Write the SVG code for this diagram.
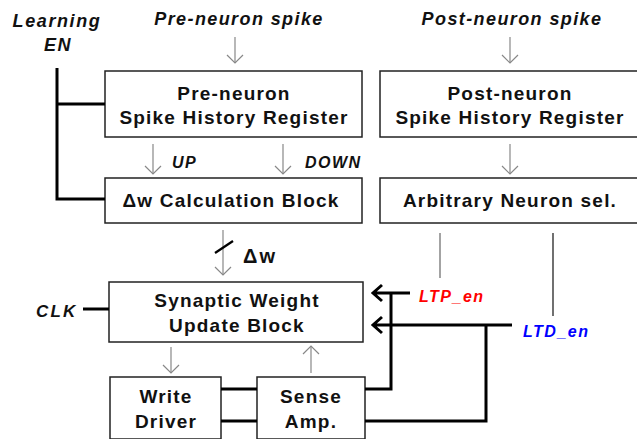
<svg xmlns="http://www.w3.org/2000/svg" width="637" height="439" viewBox="0 0 637 439">
<defs>
<style>
.box{fill:#fff;stroke:#222;stroke-width:1.5}
.bt{font-family:"Liberation Sans",Arial,sans-serif;font-weight:bold;font-size:19px;letter-spacing:1.2px;fill:#111;text-anchor:middle}
.it{font-family:"Liberation Sans",Arial,sans-serif;font-weight:bold;font-style:italic;fill:#111}
.thin{stroke:#888;stroke-width:1.2;fill:none}
.thick{stroke:#000;stroke-width:3;fill:none}
</style>
<marker id="ah" markerWidth="18" markerHeight="18" refX="9" refY="9" orient="auto" markerUnits="userSpaceOnUse">
<path d="M1,1 L9,9 L1,17" fill="none" stroke="#888" stroke-width="1.2"/>
</marker>
</defs>
<rect width="637" height="439" fill="#fff"/>
<text class="it" x="57" y="27" font-size="18" letter-spacing="1.6" text-anchor="middle">Learning</text>
<text class="it" x="58" y="51" font-size="18" letter-spacing="1.5" text-anchor="middle">EN</text>
<text class="it" x="239" y="25" font-size="18" letter-spacing="1.4" text-anchor="middle">Pre-neuron spike</text>
<text class="it" x="512" y="25" font-size="18" letter-spacing="1.4" text-anchor="middle">Post-neuron spike</text>
<g id="pre-reg"><rect class="box" x="105" y="71" width="257" height="66"/>
<text class="bt" x="234" y="100">Pre-neuron</text><text class="bt" x="234" y="124">Spike History Register</text></g>
<g id="post-reg"><rect class="box" x="380" y="71" width="262" height="66"/>
<text class="bt" x="510" y="100">Post-neuron</text><text class="bt" x="510" y="124">Spike History Register</text></g>
<g id="dw-calc"><rect class="box" x="105" y="178" width="257" height="45"/>
<text class="bt" x="231" y="207">Δw Calculation Block</text></g>
<g id="arb-sel"><rect class="box" x="380" y="178" width="262" height="45"/>
<text class="bt" x="510" y="207">Arbitrary Neuron sel.</text></g>
<g id="syn-upd"><rect class="box" x="109" y="282" width="254" height="60"/>
<text class="bt" x="237" y="307">Synaptic Weight</text><text class="bt" x="237" y="332">Update Block</text></g>
<g id="write-drv"><rect class="box" x="110" y="377" width="111" height="62"/>
<text class="bt" x="166" y="403">Write</text><text class="bt" x="166" y="428">Driver</text></g>
<g id="sense-amp"><rect class="box" x="257" y="377" width="108" height="62"/>
<text class="bt" x="311" y="403">Sense</text><text class="bt" x="311" y="428">Amp.</text></g>
<g id="connectors">
<line class="thin" x1="235" y1="37" x2="235" y2="63" marker-end="url(#ah)"/>
<line class="thin" x1="510" y1="37" x2="510" y2="63" marker-end="url(#ah)"/>
<line class="thin" x1="153" y1="144" x2="153" y2="174" marker-end="url(#ah)"/>
<line class="thin" x1="283" y1="144" x2="283" y2="174" marker-end="url(#ah)"/>
<line class="thin" x1="510" y1="144" x2="510" y2="174" marker-end="url(#ah)"/>
<line class="thin" x1="223" y1="230" x2="223" y2="275" marker-end="url(#ah)"/>
<line x1="215" y1="253" x2="233" y2="241" stroke="#000" stroke-width="2.2"/>
<line class="thin" x1="171" y1="347" x2="171" y2="373" marker-end="url(#ah)"/>
<line class="thin" x1="311" y1="373" x2="311" y2="346" marker-end="url(#ah)"/>
<line x1="440" y1="233" x2="440" y2="278" stroke="#666" stroke-width="1.2"/>
<line x1="553" y1="233" x2="553" y2="316" stroke="#111" stroke-width="1.2"/>
<path class="thick" d="M57,68 V199 H105 M57,104 H105"/>
<line class="thick" x1="83" y1="309" x2="109" y2="309"/>
<line class="thick" x1="221" y1="389" x2="257" y2="389"/>
<line class="thick" x1="221" y1="421" x2="257" y2="421"/>
<path class="thick" d="M410,293 H373 M382,285 L373,293 L382,301"/>
<path class="thick" d="M512,325 H373 M382,317 L373,325 L382,333"/>
<path class="thick" d="M391,293 V389 H365"/>
<path class="thick" d="M486,325 V421 H365"/>
</g>
<text class="it" x="172" y="168" font-size="16" letter-spacing="1.5">UP</text>
<text class="it" x="305" y="168" font-size="16" letter-spacing="1.5">DOWN</text>
<text x="243" y="263" font-family="Liberation Sans,Arial,sans-serif" font-weight="bold" font-size="20" letter-spacing="2" fill="#111">Δw</text>
<text class="it" x="36" y="317" font-size="17" letter-spacing="2.2">CLK</text>
<text class="it" x="419" y="302" font-size="16" letter-spacing="1.5" style="fill:#ff0000">LTP_en</text>
<text class="it" x="523" y="337" font-size="16" letter-spacing="1.5" style="fill:#0000ff">LTD_en</text>
</svg>
